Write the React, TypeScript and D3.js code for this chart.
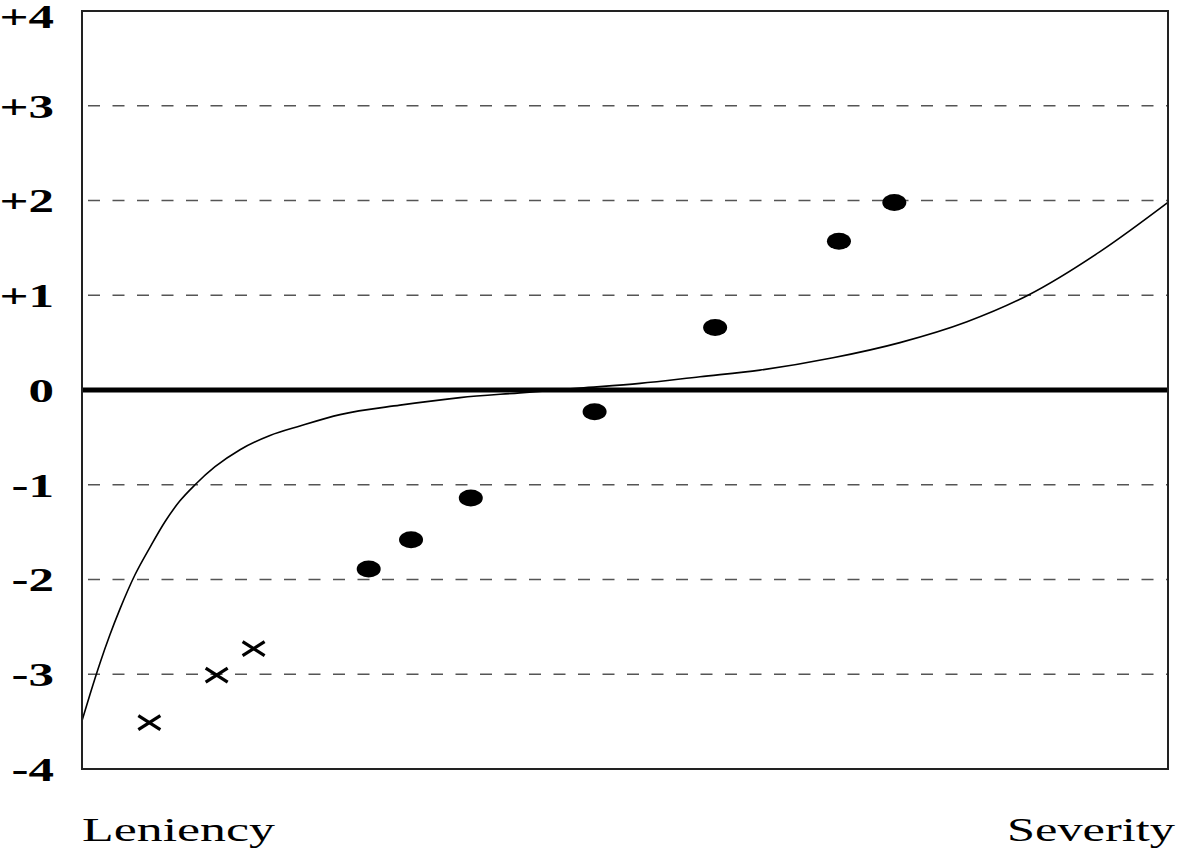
import React from "react";
import * as d3 from "d3";

// Tick values and labels for the vertical axis
const yTicks = [4, 3, 2, 1, 0, -1, -2, -3, -4];
const yTickLabels = ["+4", "+3", "+2", "+1", "0", "-1", "-2", "-3", "-4"];

// Filled-dot observations (position along leniency→severity axis, measure)
const dotX = [26.4, 30.3, 35.8, 47.2, 58.3, 69.7, 74.8];
const dotY = [-1.89, -1.58, -1.14, -0.23, 0.66, 1.57, 1.98];

// Cross observations
const crossX = [6.2, 12.4, 15.8];
const crossY = [-3.51, -3.01, -2.73];

// Reference curve samples
const curveX = [0, 0.74, 1.66, 2.58, 3.5, 4.88, 6.26, 7.64, 9.02, 10.41, 12.25, 14.55, 17.31, 20.07, 23.76, 29.28, 34.81, 40.33, 45.86, 51.38, 56.91, 62.43, 69.15, 75.32, 81.49, 87.11, 93.74, 100];
const curveY = [-3.49, -3.21, -2.88, -2.58, -2.31, -1.95, -1.66, -1.39, -1.17, -1.0, -0.81, -0.63, -0.48, -0.38, -0.26, -0.16, -0.08, -0.03, 0.02, 0.07, 0.14, 0.21, 0.34, 0.5, 0.72, 1.0, 1.46, 1.98];

const axisLabels = ["Leniency", "Severity"];

const W = 1179;
const H = 852;
const left = 82;
const right = 1168;
const top = 11;
const bottom = 769;

export default function App() {
  const x = d3.scaleLinear().domain([0, 100]).range([left, right]);
  const y = d3.scaleLinear().domain([-4, 4]).range([bottom, top]);

  const pts = curveX.map((v, i) => [v, curveY[i]] as [number, number]);
  const line = d3
    .line<[number, number]>()
    .x((d) => x(d[0]))
    .y((d) => y(d[1]))
    .curve(d3.curveMonotoneX);

  const font = "'Liberation Serif', 'Times New Roman', serif";

  return (
    <svg
      width={W}
      height={H}
      style={{ position: "absolute", left: 0, top: 0, background: "#fff" }}
    >
      <rect x={0} y={0} width={W} height={H} fill="#fff" />
      {/* dashed grid lines */}
      {yTicks
        .filter((t) => t !== 0 && t !== 4 && t !== -4)
        .map((t) => (
          <line
            key={"g" + t}
            x1={left}
            x2={right}
            y1={y(t)}
            y2={y(t)}
            stroke="#555"
            strokeWidth={1.7}
            strokeDasharray="12 12.5"
            strokeDashoffset={-6}
          />
        ))}
      {/* zero line */}
      <line x1={left} x2={right} y1={y(0)} y2={y(0)} stroke="#000" strokeWidth={5} />
      {/* curve */}
      <path d={line(pts) || ""} fill="none" stroke="#000" strokeWidth={1.6} />
      {/* dots */}
      {dotX.map((v, i) => (
        <ellipse key={"d" + i} cx={x(v)} cy={y(dotY[i])} rx={12} ry={8.5} fill="#000" />
      ))}
      {/* crosses */}
      {crossX.map((v, i) => {
        const cx = x(v);
        const cy = y(crossY[i]);
        return (
          <g key={"c" + i} stroke="#000" strokeWidth={3.2}>
            <line x1={cx - 11} y1={cy - 7} x2={cx + 11} y2={cy + 7} />
            <line x1={cx - 11} y1={cy + 7} x2={cx + 11} y2={cy - 7} />
          </g>
        );
      })}
      {/* frame */}
      <rect
        x={left}
        y={top}
        width={right - left}
        height={bottom - top}
        fill="none"
        stroke="#222"
        strokeWidth={2}
      />
      {/* y tick labels */}
      {yTicks.map((t, i) => (
        <text
          key={"t" + t}
          transform={`translate(54, ${Math.max(y(t), 16)}) scale(1.5, 1)`}
          textAnchor="end"
          dominantBaseline="central"
          fontFamily={font}
          fontWeight="bold"
          fontSize={34}
          fill="#000"
        >
          {yTickLabels[i]}
        </text>
      ))}
      {/* axis end labels */}
      <text
        x={left}
        y={841}
        fontFamily={font}
        fontSize={33}
        textLength={193}
        lengthAdjust="spacingAndGlyphs"
        fill="#000"
      >
        {axisLabels[0]}
      </text>
      <text
        x={1007}
        y={841}
        fontFamily={font}
        fontSize={33}
        textLength={168}
        lengthAdjust="spacingAndGlyphs"
        fill="#000"
      >
        {axisLabels[1]}
      </text>
    </svg>
  );
}
